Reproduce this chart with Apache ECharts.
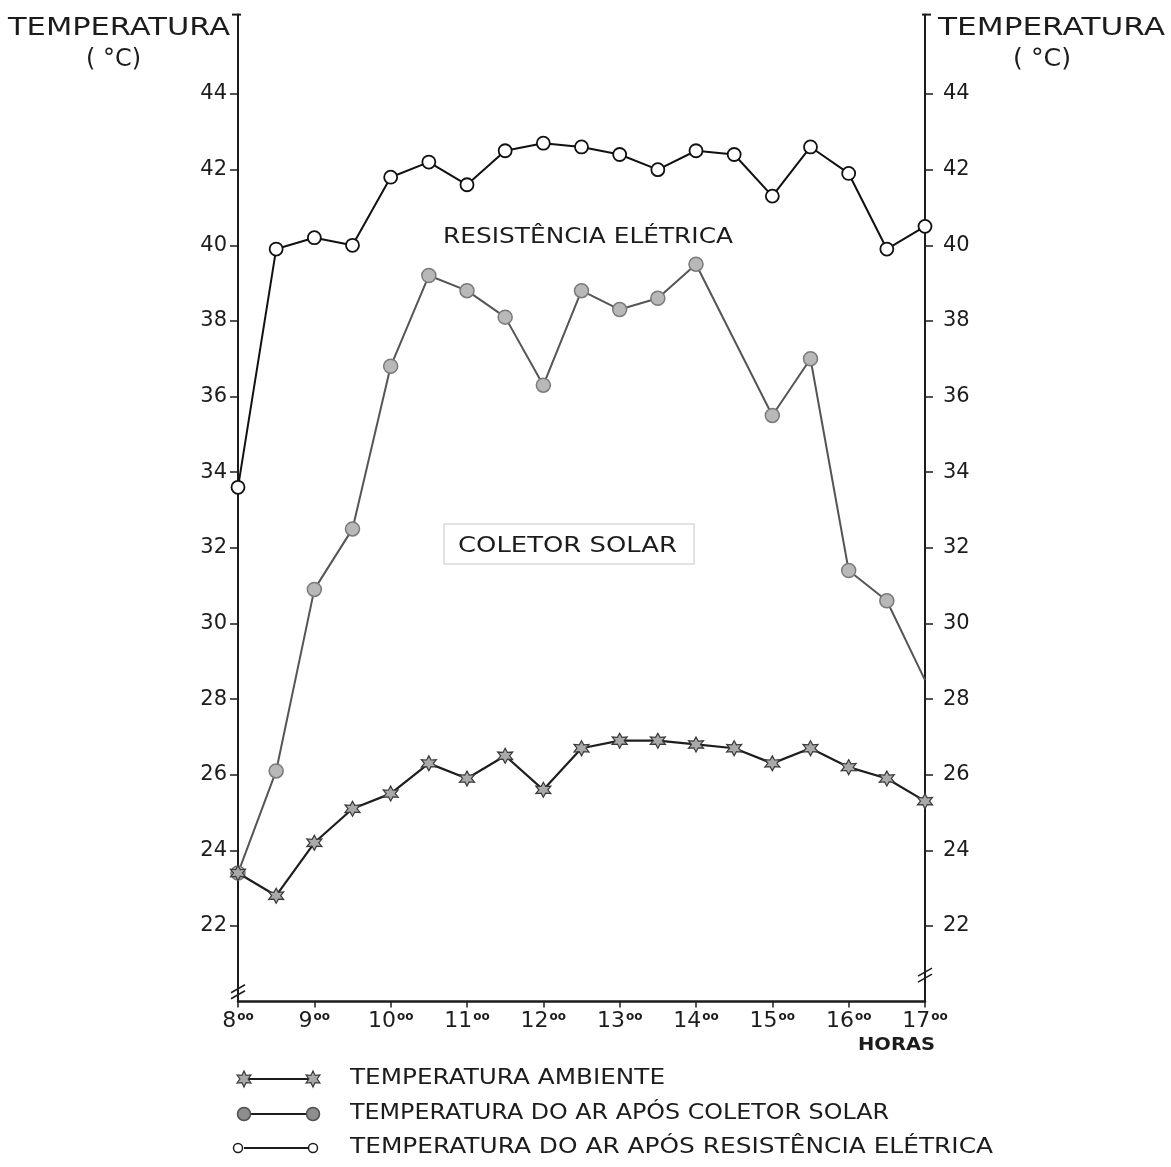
<!DOCTYPE html>
<html>
<head>
<meta charset="utf-8">
<script src="https://cdn.jsdelivr.net/npm/echarts@6/dist/echarts.min.js"></script>
<style>
  html, body { margin: 0; padding: 0; background: #ffffff; }
  #chart { width: 1171px; height: 1167px; }
</style>
</head>
<body>
<div id="chart"></div>
<script>
// Half-hourly readings, 8:00 to 17:00
const horas = [8, 8.5, 9, 9.5, 10, 10.5, 11, 11.5, 12, 12.5, 13, 13.5, 14, 14.5, 15, 15.5, 16, 16.5, 17];

// Temperatura ambiente (°C)
const ambiente = [23.4, 22.8, 24.2, 25.1, 25.5, 26.3, 25.9, 26.5, 25.6, 26.7, 26.9, 26.9, 26.8, 26.7, 26.3, 26.7, 26.2, 25.9, 25.3];

// Temperatura do ar após o coletor solar (°C); 14:30 not recorded
const coletor = [23.4, 26.1, 30.9, 32.5, 36.8, 39.2, 38.8, 38.1, 36.3, 38.8, 38.3, 38.6, 39.5, null, 35.5, 37.0, 31.4, 30.6, 28.5];

// Temperatura do ar após a resistência elétrica (°C)
const resistencia = [33.6, 39.9, 40.2, 40.0, 41.8, 42.2, 41.6, 42.5, 42.7, 42.6, 42.4, 42.0, 42.5, 42.4, 41.3, 42.6, 41.9, 39.9, 40.5];

// Axis ticks
const yTicks = [22, 24, 26, 28, 30, 32, 34, 36, 38, 40, 42, 44];
const xTicks = [8, 9, 10, 11, 12, 13, 14, 15, 16, 17];

const FONT = 'DejaVu Sans';
const INK = '#1c1c1c';

// six-pointed star used for the ambient series
function starPoints(cx, cy, R) {
  const pts = [];
  for (let k = 0; k < 12; k++) {
    const a = (-90 + k * 30) * Math.PI / 180;
    const r = k % 2 ? R * 0.52 : R;
    pts.push([cx + Math.cos(a) * r, cy + Math.sin(a) * r]);
  }
  return pts;
}
const starPath = 'path://' + starPoints(0, 0, 1)
  .map((p, i) => (i ? 'L' : 'M') + p[0].toFixed(3) + ' ' + p[1].toFixed(3)).join('') + 'Z';

const pairs = (vals) => horas.map((h, i) => [h, vals[i]]);

const chart = echarts.init(document.getElementById('chart'), null, { renderer: 'canvas' });

const yAxisBase = {
  type: 'value',
  min: 20,
  max: 46.1,
  interval: 2,
  splitLine: { show: false },
  axisLine: { show: true, onZero: false, lineStyle: { color: INK, width: 2 } },
  axisTick: { show: true, customValues: yTicks, length: 8, lineStyle: { color: INK, width: 1.5 } },
  axisLabel: {
    customValues: yTicks,
    fontFamily: FONT, fontSize: 21, color: INK
  }
};

chart.setOption({
  animation: false,
  backgroundColor: '#ffffff',
  grid: { left: 238, right: 246, top: 14.6, bottom: 165.4, containLabel: false },
  xAxis: {
    type: 'value',
    min: 8, max: 17, interval: 1,
    splitLine: { show: false },
    axisLine: { show: true, onZero: false, lineStyle: { color: INK, width: 2.5 } },
    axisTick: { show: true, length: 6, lineStyle: { color: INK, width: 1.5 } },
    axisLabel: {
      margin: 9,
      customValues: xTicks,
      formatter: (v) => '{h|' + v + '}{s|oo}',
      rich: {
        h: { fontFamily: FONT, fontSize: 22, color: INK },
        s: { fontFamily: FONT, fontSize: 12, color: INK, verticalAlign: 'top', fontWeight: 'bold', padding: [0, 0, 0, 1] }
      }
    }
  },
  yAxis: [
    Object.assign({}, yAxisBase, { position: 'left', axisLabel: Object.assign({}, yAxisBase.axisLabel, { margin: 11 }) }),
    Object.assign({}, yAxisBase, { position: 'right', axisLabel: Object.assign({}, yAxisBase.axisLabel, { margin: 18 }) })
  ],
  series: [
    {
      name: 'TEMPERATURA AMBIENTE',
      type: 'line',
      data: pairs(ambiente),
      symbol: starPath,
      symbolSize: 15,
      lineStyle: { color: '#1e1e1e', width: 2.2 },
      itemStyle: { color: '#a9a9a9', borderColor: '#3a3a3a', borderWidth: 1.2 },
      z: 3
    },
    {
      name: 'TEMPERATURA DO AR APÓS COLETOR SOLAR',
      type: 'line',
      data: pairs(coletor).map((p, i, a) => i === a.length - 1 ? { value: p, symbol: 'none' } : p),
      connectNulls: true,
      symbol: 'circle',
      symbolSize: 14,
      lineStyle: { color: '#555555', width: 2 },
      itemStyle: { color: '#b8b8b8', borderColor: '#7a7a7a', borderWidth: 1.5 },
      z: 2
    },
    {
      name: 'TEMPERATURA DO AR APÓS RESISTÊNCIA ELÉTRICA',
      type: 'line',
      data: pairs(resistencia),
      symbol: 'circle',
      symbolSize: 13,
      lineStyle: { color: '#111111', width: 2 },
      itemStyle: { color: '#ffffff', borderColor: '#111111', borderWidth: 1.8 },
      z: 4
    }
  ]
});

// ---- annotations, axis caps, axis breaks and the key below the plot ----
const ctx = document.createElement('canvas').getContext('2d');
function scaleFor(text, size, weight, width) {
  ctx.font = (weight || 'normal') + ' ' + size + 'px "' + FONT + '"';
  return width / ctx.measureText(text).width;
}
function label(text, x, y, size, width, opts) {
  opts = opts || {};
  const weight = opts.weight || 'normal';
  return {
    type: 'text',
    x: x, y: y,
    scaleX: width ? scaleFor(text, size, weight, width) : 1,
    z: 20,
    style: Object.assign({
      text: text,
      fontFamily: FONT, fontSize: size, fontWeight: weight,
      fill: INK,
      align: opts.align || 'left', textAlign: opts.align || 'left',
      verticalAlign: 'middle', textVerticalAlign: 'middle'
    }, opts.style || {})
  };
}
const px = (x, y) => chart.convertToPixel({ xAxisIndex: 0, yAxisIndex: 0 }, [x, y]);

const topL = px(8, 46.1), topR = px(17, 46.1);
const brkL = px(8, 20.26), brkR = px(17, 20.7);

function breakMark(p) {
  const out = [];
  [-3, 3].forEach((d) => {
    out.push({
      type: 'line', z: 21,
      shape: { x1: p[0] - 7, y1: p[1] + d + 4, x2: p[0] + 7, y2: p[1] + d - 4 },
      style: { stroke: INK, lineWidth: 1.6 }
    });
  });
  return out;
}

const keyRows = [
  { y: 1079, kind: 'star', text: 'TEMPERATURA AMBIENTE', w: 315 },
  { y: 1114, kind: 'grey', text: 'TEMPERATURA DO AR APÓS COLETOR SOLAR', w: 539 },
  { y: 1148, kind: 'open', text: 'TEMPERATURA DO AR APÓS RESISTÊNCIA ELÉTRICA', w: 643 }
];
function keySymbol(kind, x, y) {
  if (kind === 'star') {
    return { type: 'polygon', z: 22, shape: { points: starPoints(x, y, 8) },
      style: { fill: '#a9a9a9', stroke: '#3a3a3a', lineWidth: 1.2 } };
  }
  if (kind === 'grey') {
    return { type: 'circle', z: 22, shape: { cx: x, cy: y, r: 6.5 },
      style: { fill: '#8e8e8e', stroke: '#505050', lineWidth: 1.5 } };
  }
  return { type: 'circle', z: 22, shape: { cx: x, cy: y, r: 4.5 },
    style: { fill: '#ffffff', stroke: INK, lineWidth: 1.5 } };
}
const keyGraphics = [];
keyRows.forEach((r) => {
  keyGraphics.push({ type: 'line', z: 21, shape: { x1: 244, y1: r.y, x2: 313, y2: r.y },
    style: { stroke: INK, lineWidth: 1.8 } });
  keyGraphics.push(keySymbol(r.kind, r.kind === 'open' ? 238 : 244, r.y));
  keyGraphics.push(keySymbol(r.kind, 313, r.y));
  keyGraphics.push(label(r.text, 350, r.y, 21, r.w));
});

chart.setOption({
  graphic: [
    // axis titles
    label('TEMPERATURA', 8, 28, 25, 222),
    label('( °C)', 86, 59, 25, 55),
    label('TEMPERATURA', 938, 28, 25, 227),
    label('( °C)', 1013, 59, 25, 58),
    label('HORAS', 858, 1045, 18, 77, { weight: 'bold' }),
    // series captions
    label('RESISTÊNCIA ELÉTRICA', 443, 237, 22, 290),
    {
      type: 'rect', z: 19,
      shape: { x: 444, y: 524, width: 250, height: 40 },
      style: { fill: '#ffffff', stroke: '#e2e2e2', lineWidth: 2 }
    },
    label('COLETOR SOLAR', 458, 546, 22, 219),
    // caps at the top of both vertical axes
    { type: 'line', z: 21, shape: { x1: topL[0] - 6, y1: topL[1], x2: topL[0] + 3, y2: topL[1] }, style: { stroke: INK, lineWidth: 2 } },
    { type: 'line', z: 21, shape: { x1: topR[0] - 3, y1: topR[1], x2: topR[0] + 6, y2: topR[1] }, style: { stroke: INK, lineWidth: 2 } }
  ].concat(breakMark(brkL), breakMark(brkR), keyGraphics)
});
</script>
</body>
</html>
